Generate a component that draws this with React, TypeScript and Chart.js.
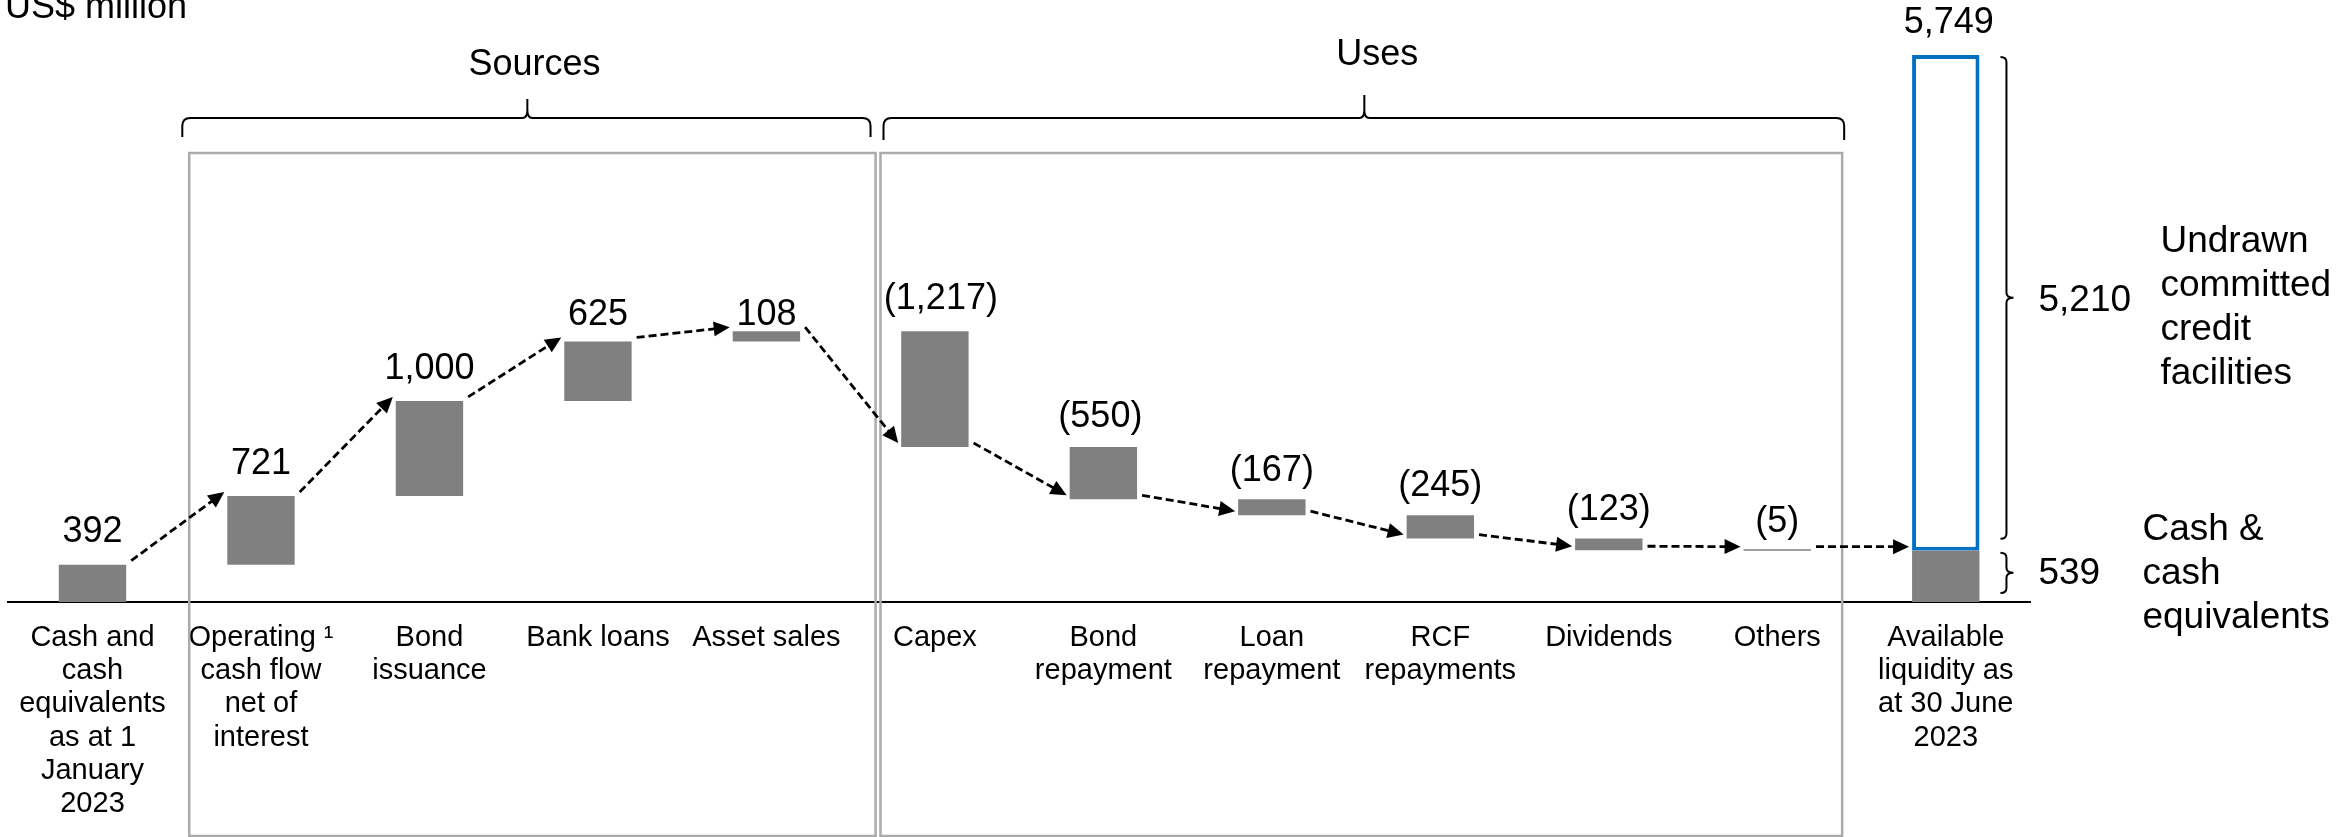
import React, { useEffect, useRef } from "react";
import { Chart, registerables } from "chart.js";

Chart.register(...registerables);

const FONT = "'Liberation Sans', Arial, Helvetica, sans-serif";

// ---------- data ----------
const categories: string[][] = [
  ["Cash and", "cash", "equivalents", "as at 1", "January", "2023"],
  ["Operating \u00B9", "cash flow", "net of", "interest"],
  ["Bond", "issuance"],
  ["Bank loans"],
  ["Asset sales"],
  ["Capex"],
  ["Bond", "repayment"],
  ["Loan", "repayment"],
  ["RCF", "repayments"],
  ["Dividends"],
  ["Others"],
  ["Available", "liquidity as", "at 30 June", "2023"],
];

// opening cash followed by sources (+) and uses (-)
const changes: number[] = [392, 721, 1000, 625, 108, -1217, -550, -167, -245, -123, -5];
const closingCash = 539;
const undrawnFacilities = 5210;
const totalLiquidity = 5749;

const unitLabel = "US$ million";
const groupLabels = ["Sources", "Uses"];
const undrawnLabel = ["Undrawn", "committed", "credit", "facilities"];
const cashLabel = ["Cash &", "cash", "equivalents"];

// ---------- styles ----------
const GREY = "#808080";
const BLUE = "#0070C0";
const BOX = "#ababab";
const labelGaps = [23, 22, 22, 16, 6, 22, 20, 18, 19, 19, 18];
const labelShift = [0, 0, 0, 0, 0, 6, -3, 0, 0, 0, 0];
const totalGap = 22;

function fmt(v: number): string {
  const s = Math.abs(v).toLocaleString("en-US");
  return v < 0 ? `(${s})` : s;
}

export default function App() {
  const ref = useRef<HTMLCanvasElement>(null);

  useEffect(() => {
    const canvas = ref.current;
    if (!canvas) return;

    const floating: (number[] | null)[] = [];
    const after: number[] = [];
    let level = 0;
    changes.forEach((c) => {
      const next = level + c;
      floating.push([Math.min(level, next), Math.max(level, next)]);
      after.push(next);
      level = next;
    });
    floating.push([0, closingCash]);
    after.push(closingCash);
    const undrawnData = categories.map((_, i) =>
      i === categories.length - 1 ? [closingCash, closingCash + undrawnFacilities] : null
    );

    const overlay = {
      id: "overlay",
      afterDatasetsDraw(chart: any) {
        const ctx: CanvasRenderingContext2D = chart.ctx;
        const xs = chart.scales.x;
        const ys = chart.scales.y;
        const px = (v: number) => xs.getPixelForValue(v);
        const py = (v: number) => ys.getPixelForValue(v);
        const meta = chart.getDatasetMeta(0);
        ctx.save();

        // unit label
        ctx.fillStyle = "#000";
        ctx.textBaseline = "alphabetic";
        ctx.textAlign = "left";
        ctx.font = `36px ${FONT}`;
        ctx.fillText(unitLabel, 5, 18);

        // group boxes
        ctx.strokeStyle = BOX;
        ctx.lineWidth = 2.5;
        const boxTop = 153;
        const boxBottom = 836;
        const b1l = px(0.574), b1r = px(4.648);
        const b2l = px(4.677), b2r = px(10.385);
        ctx.strokeRect(b1l, boxTop, b1r - b1l, boxBottom - boxTop);
        ctx.strokeRect(b2l, boxTop, b2r - b2l, boxBottom - boxTop);

        // braces
        const brace = (x0: number, x1: number, xt: number, yLine: number, yTip: number, yEnd: number) => {
          const r = 8;
          ctx.beginPath();
          ctx.moveTo(x0, yEnd);
          ctx.lineTo(x0, yLine + r);
          ctx.quadraticCurveTo(x0, yLine, x0 + r, yLine);
          ctx.lineTo(xt - 5, yLine);
          ctx.quadraticCurveTo(xt, yLine, xt, yLine - 8);
          ctx.lineTo(xt, yTip);
          ctx.moveTo(xt, yLine - 8);
          ctx.quadraticCurveTo(xt, yLine, xt + 5, yLine);
          ctx.lineTo(x1 - r, yLine);
          ctx.quadraticCurveTo(x1, yLine, x1, yLine + r);
          ctx.lineTo(x1, yEnd);
          ctx.stroke();
        };
        ctx.strokeStyle = "#000";
        ctx.lineWidth = 2;
        brace(px(0.533), px(4.618), px(2.581), 118, 99, 137);
        brace(px(4.695), px(10.397), px(7.549), 118, 95, 140);

        ctx.textAlign = "center";
        ctx.font = `36px ${FONT}`;
        ctx.fillText(groupLabels[0], px(2.623), 75);
        ctx.fillText(groupLabels[1], px(7.626), 65);

        // dashed arrows between bars
        const arrow = (sx: number, sy: number, ex: number, ey: number) => {
          const dx = ex - sx, dy = ey - sy;
          const len = Math.hypot(dx, dy);
          const ux = dx / len, uy = dy / len;
          const headL = 16, headW = 7.5;
          ctx.setLineDash([8, 4]);
          ctx.lineWidth = 2.8;
          ctx.beginPath();
          ctx.moveTo(sx, sy);
          ctx.lineTo(ex - ux * (headL - 2), ey - uy * (headL - 2));
          ctx.stroke();
          ctx.setLineDash([]);
          ctx.beginPath();
          ctx.moveTo(ex, ey);
          ctx.lineTo(ex - ux * headL - uy * headW, ey - uy * headL + ux * headW);
          ctx.lineTo(ex - ux * headL + uy * headW, ey - uy * headL - ux * headW);
          ctx.closePath();
          ctx.fill();
        };
        ctx.strokeStyle = "#000";
        ctx.fillStyle = "#000";
        for (let i = 0; i < meta.data.length - 1; i++) {
          const a = meta.data[i];
          const b = meta.data[i + 1];
          arrow(a.x + a.width / 2 + 5, py(after[i]) - 4, b.x - b.width / 2 - 3, py(after[i + 1]) - 4);
        }

        // value labels
        ctx.font = `36px ${FONT}`;
        ctx.textAlign = "center";
        ctx.textBaseline = "alphabetic";
        changes.forEach((c, i) => {
          const el = meta.data[i];
          const top = Math.max(...(floating[i] as number[]));
          ctx.fillText(fmt(c), el.x + labelShift[i], py(top) - labelGaps[i]);
        });
        const last = meta.data[meta.data.length - 1];
        ctx.fillText(fmt(totalLiquidity), last.x + 3, py(totalLiquidity) - totalGap);

        // right-hand brackets
        const bx = last.x + last.width / 2 + 27;
        const bracket = (yTop: number, yBot: number) => {
          const yMid = (yTop + yBot) / 2;
          ctx.beginPath();
          ctx.moveTo(bx - 6, yTop);
          ctx.quadraticCurveTo(bx, yTop, bx, yTop + 5);
          ctx.lineTo(bx, yMid - 5);
          ctx.quadraticCurveTo(bx, yMid, bx + 7, yMid);
          ctx.quadraticCurveTo(bx, yMid, bx, yMid + 5);
          ctx.lineTo(bx, yBot - 5);
          ctx.quadraticCurveTo(bx, yBot, bx - 6, yBot);
          ctx.stroke();
          return yMid;
        };
        ctx.lineWidth = 2;
        const upMid = bracket(py(totalLiquidity) + 2, py(closingCash) - 12);
        const loMid = bracket(py(closingCash) + 2, py(0) - 9);

        ctx.font = `37px ${FONT}`;
        ctx.textAlign = "left";
        ctx.textBaseline = "middle";
        ctx.fillText(fmt(undrawnFacilities), bx + 32, upMid + 3);
        ctx.fillText(fmt(closingCash), bx + 32, loMid + 1);
        undrawnLabel.forEach((t, i) => ctx.fillText(t, bx + 154, upMid - 56 + i * 44));
        cashLabel.forEach((t, i) => ctx.fillText(t, bx + 136, loMid - 43 + i * 44));

        ctx.restore();
      },
    };

    const chart = new Chart(canvas, {
      type: "bar",
      data: {
        labels: categories,
        datasets: [
          {
            data: floating as any,
            backgroundColor: GREY,
            borderWidth: 0,
            grouped: false,
            barPercentage: 0.4,
            categoryPercentage: 1,
            minBarLength: 1.5,
          },
          {
            data: undrawnData as any,
            backgroundColor: "#ffffff",
            borderColor: BLUE,
            borderWidth: 4,
            borderSkipped: false,
            grouped: false,
            barPercentage: 0.4,
            categoryPercentage: 1,
          },
        ],
      },
      options: {
        responsive: false,
        animation: false,
        devicePixelRatio: 1,
        layout: { padding: { left: 3.5, right: 306, top: 31, bottom: 0 } },
        plugins: { legend: { display: false }, tooltip: { enabled: false } },
        scales: {
          x: {
            type: "category",
            offset: true,
            grid: { display: false, drawTicks: false },
            border: { display: true, color: "#000", width: 2 },
            ticks: {
              color: "#000",
              font: { family: FONT, size: 29, lineHeight: 1.15 },
              padding: 19,
              autoSkip: false,
              maxRotation: 0,
              minRotation: 0,
            },
            afterFit: (scale: any) => {
              scale.height = 235;
            },
          },
          y: {
            display: false,
            min: 0,
            max: 6000,
          },
        },
      },
      plugins: [overlay],
    });

    return () => chart.destroy();
  }, []);

  return (
    <div style={{ position: "absolute", left: 0, top: 0, width: 2336, height: 837, background: "#fff" }}>
      <canvas ref={ref} width={2336} height={837} style={{ display: "block" }} />
    </div>
  );
}
